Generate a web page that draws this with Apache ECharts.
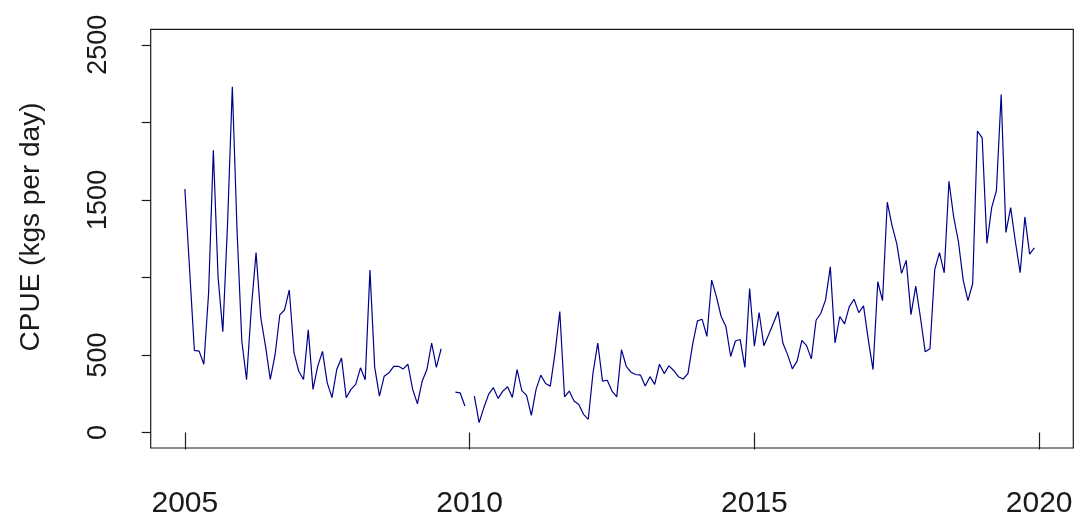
<!DOCTYPE html>
<html>
<head>
<meta charset="utf-8">
<script src="https://cdn.jsdelivr.net/npm/echarts@6/dist/echarts.min.js"></script>
<style>
  html, body { margin: 0; padding: 0; background: #ffffff; }
  #chart { width: 1076px; height: 519px; }
</style>
</head>
<body>
<div id="chart"></div>
<script>
// Monthly CPUE (kgs per day), Jan..Dec per row, null = no data
const years = [2005, 2006, 2007, 2008, 2009, 2010, 2011, 2012, 2013, 2014, 2015, 2016, 2017, 2018, 2019];
const cpue2005_2009 = [
  [1570, 1050, 530, 525, 440, 900, 1820, 1000, 650, 1350, 2230, 1300],
  [590, 340, 800, 1160, 740, 555, 342, 500, 758, 790, 919, 513],
  [395, 342, 662, 278, 428, 523, 320, 225, 406, 481, 224, 278],
  [310, 417, 340, 1047, 420, 235, 363, 385, 427, 427, 410, 440],
  [278, 185, 331, 406, 577, 420, 540, null, null, 260, 256, 171]
];
const cpue2010_2014 = [
  [null, 235, 64, 160, 246, 289, 220, 267, 295, 226, 406, 270],
  [239, 110, 278, 370, 316, 299, 513, 780, 230, 267, 203, 181],
  [117, 85, 385, 577, 331, 337, 267, 230, 534, 427, 389, 374],
  [370, 300, 360, 310, 440, 380, 430, 400, 360, 345, 380, 570],
  [720, 730, 620, 983, 876, 748, 684, 490, 590, 600, 420, 929]
];
const cpue2015_2019 = [
  [556, 774, 560, 630, 705, 780, 577, 502, 410, 460, 594, 560],
  [475, 724, 769, 855, 1068, 577, 748, 700, 812, 859, 773, 816],
  [599, 406, 972, 850, 1485, 1336, 1218, 1026, 1110, 760, 944, 740],
  [520, 540, 1050, 1160, 1030, 1620, 1389, 1230, 983, 850, 961, 1944],
  [1900, 1220, 1450, 1560, 2180, 1290, 1450, 1230, 1030, 1390, 1150, 1190]
];
const xTicks = [2005, 2010, 2015, 2020];
const yTicks = [0, 500, 1000, 1500, 2000, 2500];
const yTickLabels = [0, 500, 1500, 2500];
const yTitle = 'CPUE (kgs per day)';

const rows = cpue2005_2009.concat(cpue2010_2014, cpue2015_2019);
const seriesData = [];
rows.forEach((row, yi) => {
  row.forEach((v, mi) => {
    seriesData.push([years[yi] + mi / 12, v]);
  });
});

const FONT = "'Liberation Sans', Arial, Helvetica, sans-serif";
const INK = '#1a1a1a';
const plain = v => String(Math.round(v));

const chart = echarts.init(document.getElementById('chart'), null, { renderer: 'canvas' });
chart.setOption({
  animation: false,
  backgroundColor: '#ffffff',
  grid: {
    left: 150.7, right: 2.7, top: 29.3, bottom: 69,
    show: true, borderColor: INK, borderWidth: 1.2, backgroundColor: 'transparent'
  },
  xAxis: {
    type: 'value',
    min: 2004.4, max: 2020.6,
    axisLine: { show: false },
    splitLine: { show: false },
    axisTick: { show: true, length: 17, customValues: xTicks, lineStyle: { color: INK, width: 1.2 } },
    axisLabel: { customValues: xTicks, formatter: plain, fontSize: 30, fontFamily: FONT, color: INK, margin: 41 }
  },
  yAxis: {
    type: 'value',
    min: -100, max: 2600,
    axisLine: { show: false },
    splitLine: { show: false },
    axisTick: { show: true, length: 9, customValues: yTicks, lineStyle: { color: INK, width: 1.2 } },
    axisLabel: { customValues: yTickLabels, formatter: plain, rotate: 90, fontSize: 27, fontFamily: FONT, color: INK, margin: 39 }
  },
  graphic: [{
    type: 'text',
    x: 31, y: 227,
    rotation: Math.PI / 2,
    style: {
      text: yTitle, fontSize: 28, fontFamily: FONT, fill: INK,
      align: 'center', verticalAlign: 'middle'
    }
  }],
  series: [{
    type: 'line',
    data: seriesData,
    showSymbol: false,
    connectNulls: false,
    lineStyle: { color: '#00008B', width: 1.2 },
    itemStyle: { color: '#00008B' }
  }]
});
</script>
</body>
</html>
